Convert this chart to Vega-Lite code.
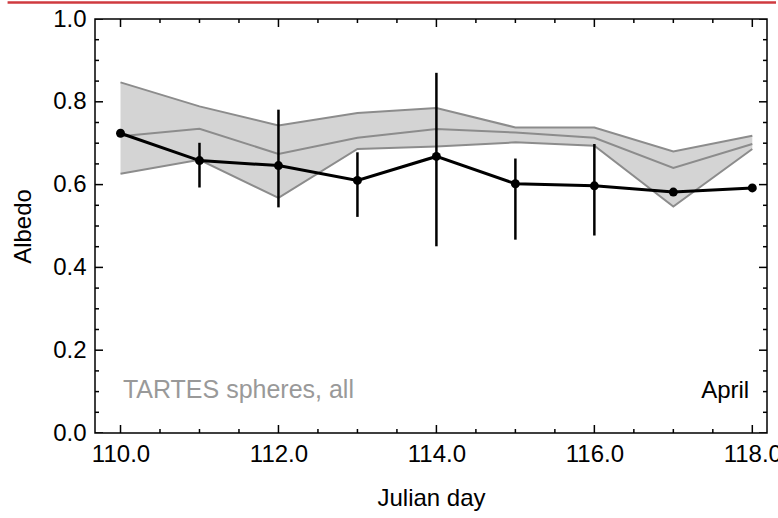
{
  "$schema": "https://vega.github.io/schema/vega-lite/v6.json",
  "width": 672,
  "height": 414,
  "autosize": {"type": "none"},
  "padding": {"left": 95, "top": 19, "right": 11, "bottom": 85},
  "background": "white",
  "datasets": {
    "band": [
      {"day": 110, "upper": 0.847, "middle": 0.717, "lower": 0.626},
      {"day": 111, "upper": 0.789, "middle": 0.735, "lower": 0.660},
      {"day": 112, "upper": 0.743, "middle": 0.674, "lower": 0.568},
      {"day": 113, "upper": 0.773, "middle": 0.713, "lower": 0.686},
      {"day": 114, "upper": 0.785, "middle": 0.734, "lower": 0.692},
      {"day": 115, "upper": 0.738, "middle": 0.726, "lower": 0.702},
      {"day": 116, "upper": 0.738, "middle": 0.713, "lower": 0.694},
      {"day": 117, "upper": 0.680, "middle": 0.640, "lower": 0.547},
      {"day": 118, "upper": 0.718, "middle": 0.698, "lower": 0.686}
    ],
    "obs": [
      {"day": 110, "albedo": 0.724},
      {"day": 111, "albedo": 0.658},
      {"day": 112, "albedo": 0.646},
      {"day": 113, "albedo": 0.610},
      {"day": 114, "albedo": 0.668},
      {"day": 115, "albedo": 0.602},
      {"day": 116, "albedo": 0.597},
      {"day": 117, "albedo": 0.582},
      {"day": 118, "albedo": 0.592}
    ],
    "err": [
      {"day": 111, "lo": 0.593, "hi": 0.701},
      {"day": 112, "lo": 0.545, "hi": 0.781},
      {"day": 113, "lo": 0.522, "hi": 0.678},
      {"day": 114, "lo": 0.451, "hi": 0.870},
      {"day": 115, "lo": 0.467, "hi": 0.663},
      {"day": 116, "lo": 0.477, "hi": 0.698}
    ],
    "dayTicks": [
      {"day": 110, "kind": "major"}, {"day": 110.5, "kind": "minor"},
      {"day": 111, "kind": "minor"}, {"day": 111.5, "kind": "minor"},
      {"day": 112, "kind": "major"}, {"day": 112.5, "kind": "minor"},
      {"day": 113, "kind": "minor"}, {"day": 113.5, "kind": "minor"},
      {"day": 114, "kind": "major"}, {"day": 114.5, "kind": "minor"},
      {"day": 115, "kind": "minor"}, {"day": 115.5, "kind": "minor"},
      {"day": 116, "kind": "major"}, {"day": 116.5, "kind": "minor"},
      {"day": 117, "kind": "minor"}, {"day": 117.5, "kind": "minor"},
      {"day": 118, "kind": "major"}
    ],
    "albedoTicks": [
      {"albedo": 0, "kind": "major"}, {"albedo": 0.05, "kind": "minor"},
      {"albedo": 0.1, "kind": "minor"}, {"albedo": 0.15, "kind": "minor"},
      {"albedo": 0.2, "kind": "major"}, {"albedo": 0.25, "kind": "minor"},
      {"albedo": 0.3, "kind": "minor"}, {"albedo": 0.35, "kind": "minor"},
      {"albedo": 0.4, "kind": "major"}, {"albedo": 0.45, "kind": "minor"},
      {"albedo": 0.5, "kind": "minor"}, {"albedo": 0.55, "kind": "minor"},
      {"albedo": 0.6, "kind": "major"}, {"albedo": 0.65, "kind": "minor"},
      {"albedo": 0.7, "kind": "minor"}, {"albedo": 0.75, "kind": "minor"},
      {"albedo": 0.8, "kind": "major"}, {"albedo": 0.85, "kind": "minor"},
      {"albedo": 0.9, "kind": "minor"}, {"albedo": 0.95, "kind": "minor"},
      {"albedo": 1, "kind": "major"}
    ]
  },
  "layer": [
    {
      "data": {"name": "band"},
      "mark": {"type": "area", "color": "#d4d4d4", "opacity": 1},
      "encoding": {
        "x": {
          "field": "day", "type": "quantitative",
          "scale": {"domain": [109.677, 118.186], "nice": false, "zero": false},
          "axis": {
            "orient": "bottom", "values": [110, 112, 114, 116, 118],
            "ticks": false, "labelPadding": 9, "labelFlush": false,
            "title": "Julian day", "titlePadding": 20
          }
        },
        "y": {
          "field": "lower", "type": "quantitative",
          "scale": {"domain": [0, 1], "nice": false, "zero": false},
          "axis": {
            "orient": "left", "values": [0, 0.2, 0.4, 0.6, 0.8, 1],
            "format": ".1f", "ticks": false, "labelPadding": 9, "labelFlush": false,
            "title": "Albedo", "titlePadding": 17
          }
        },
        "y2": {"field": "upper"}
      }
    },
    {
      "data": {"name": "band"},
      "mark": {"type": "line", "color": "#8c8c8c", "strokeWidth": 2},
      "encoding": {
        "x": {"field": "day", "type": "quantitative"},
        "y": {"field": "upper", "type": "quantitative"}
      }
    },
    {
      "data": {"name": "band"},
      "mark": {"type": "line", "color": "#8c8c8c", "strokeWidth": 2},
      "encoding": {
        "x": {"field": "day", "type": "quantitative"},
        "y": {"field": "middle", "type": "quantitative"}
      }
    },
    {
      "data": {"name": "band"},
      "mark": {"type": "line", "color": "#8c8c8c", "strokeWidth": 2},
      "encoding": {
        "x": {"field": "day", "type": "quantitative"},
        "y": {"field": "lower", "type": "quantitative"}
      }
    },
    {
      "data": {"name": "err"},
      "mark": {"type": "rule", "color": "#000000", "strokeWidth": 2.5},
      "encoding": {
        "x": {"field": "day", "type": "quantitative"},
        "y": {"field": "lo", "type": "quantitative"},
        "y2": {"field": "hi"}
      }
    },
    {
      "data": {"name": "obs"},
      "mark": {"type": "line", "color": "#000000", "strokeWidth": 3},
      "encoding": {
        "x": {"field": "day", "type": "quantitative"},
        "y": {"field": "albedo", "type": "quantitative"}
      }
    },
    {
      "data": {"name": "obs"},
      "mark": {"type": "point", "filled": true, "color": "#000000", "size": 80, "opacity": 1},
      "encoding": {
        "x": {"field": "day", "type": "quantitative"},
        "y": {"field": "albedo", "type": "quantitative"}
      }
    },
    {
      "data": {"name": "dayTicks"},
      "mark": {"type": "tick", "orient": "vertical", "color": "#000000", "thickness": 1.5, "clip": true, "opacity": 1},
      "encoding": {
        "x": {"field": "day", "type": "quantitative"},
        "y": {"datum": 0, "type": "quantitative"},
        "size": {"field": "kind", "type": "nominal", "scale": {"domain": ["major", "minor"], "range": [16, 8]}, "legend": null}
      }
    },
    {
      "data": {"name": "dayTicks"},
      "mark": {"type": "tick", "orient": "vertical", "color": "#000000", "thickness": 1.5, "clip": true, "opacity": 1},
      "encoding": {
        "x": {"field": "day", "type": "quantitative"},
        "y": {"datum": 1, "type": "quantitative"},
        "size": {"field": "kind", "type": "nominal", "scale": {"domain": ["major", "minor"], "range": [16, 8]}, "legend": null}
      }
    },
    {
      "data": {"name": "albedoTicks"},
      "mark": {"type": "tick", "orient": "horizontal", "color": "#000000", "thickness": 1.5, "clip": true, "opacity": 1},
      "encoding": {
        "x": {"datum": 109.677, "type": "quantitative"},
        "y": {"field": "albedo", "type": "quantitative"},
        "size": {"field": "kind", "type": "nominal", "scale": {"domain": ["major", "minor"], "range": [16, 8]}, "legend": null}
      }
    },
    {
      "data": {"name": "albedoTicks"},
      "mark": {"type": "tick", "orient": "horizontal", "color": "#000000", "thickness": 1.5, "clip": true, "opacity": 1},
      "encoding": {
        "x": {"datum": 118.186, "type": "quantitative"},
        "y": {"field": "albedo", "type": "quantitative"},
        "size": {"field": "kind", "type": "nominal", "scale": {"domain": ["major", "minor"], "range": [16, 8]}, "legend": null}
      }
    },
    {
      "data": {"values": [{"day": 110.03, "albedo": 0.085, "label": "TARTES spheres, all"}]},
      "mark": {"type": "text", "align": "left", "baseline": "alphabetic", "font": "Liberation Sans", "fontSize": 25, "color": "#999999"},
      "encoding": {
        "x": {"field": "day", "type": "quantitative"},
        "y": {"field": "albedo", "type": "quantitative"},
        "text": {"field": "label"}
      }
    },
    {
      "data": {"values": [{"day": 117.96, "albedo": 0.085, "label": "April"}]},
      "mark": {"type": "text", "align": "right", "baseline": "alphabetic", "font": "Liberation Sans", "fontSize": 24, "color": "#000000"},
      "encoding": {
        "x": {"field": "day", "type": "quantitative"},
        "y": {"field": "albedo", "type": "quantitative"},
        "text": {"field": "label"}
      }
    },
    {
      "data": {"values": [{"from": 108.57, "to": 118.3, "level": 1.04}]},
      "mark": {"type": "rule", "color": "#cf3a3f", "strokeWidth": 2.5, "clip": false},
      "encoding": {
        "x": {"field": "from", "type": "quantitative"},
        "x2": {"field": "to"},
        "y": {"field": "level", "type": "quantitative"}
      }
    }
  ],
  "config": {
    "font": "Liberation Sans",
    "view": {"stroke": "#000000", "strokeWidth": 1.5},
    "axis": {
      "grid": false,
      "domain": false,
      "labelFont": "Liberation Sans",
      "titleFont": "Liberation Sans",
      "labelFontSize": 24,
      "titleFontSize": 24,
      "titleFontWeight": "normal",
      "labelColor": "#000000",
      "titleColor": "#000000",
      "tickColor": "#000000",
      "tickWidth": 1.5
    }
  }
}
